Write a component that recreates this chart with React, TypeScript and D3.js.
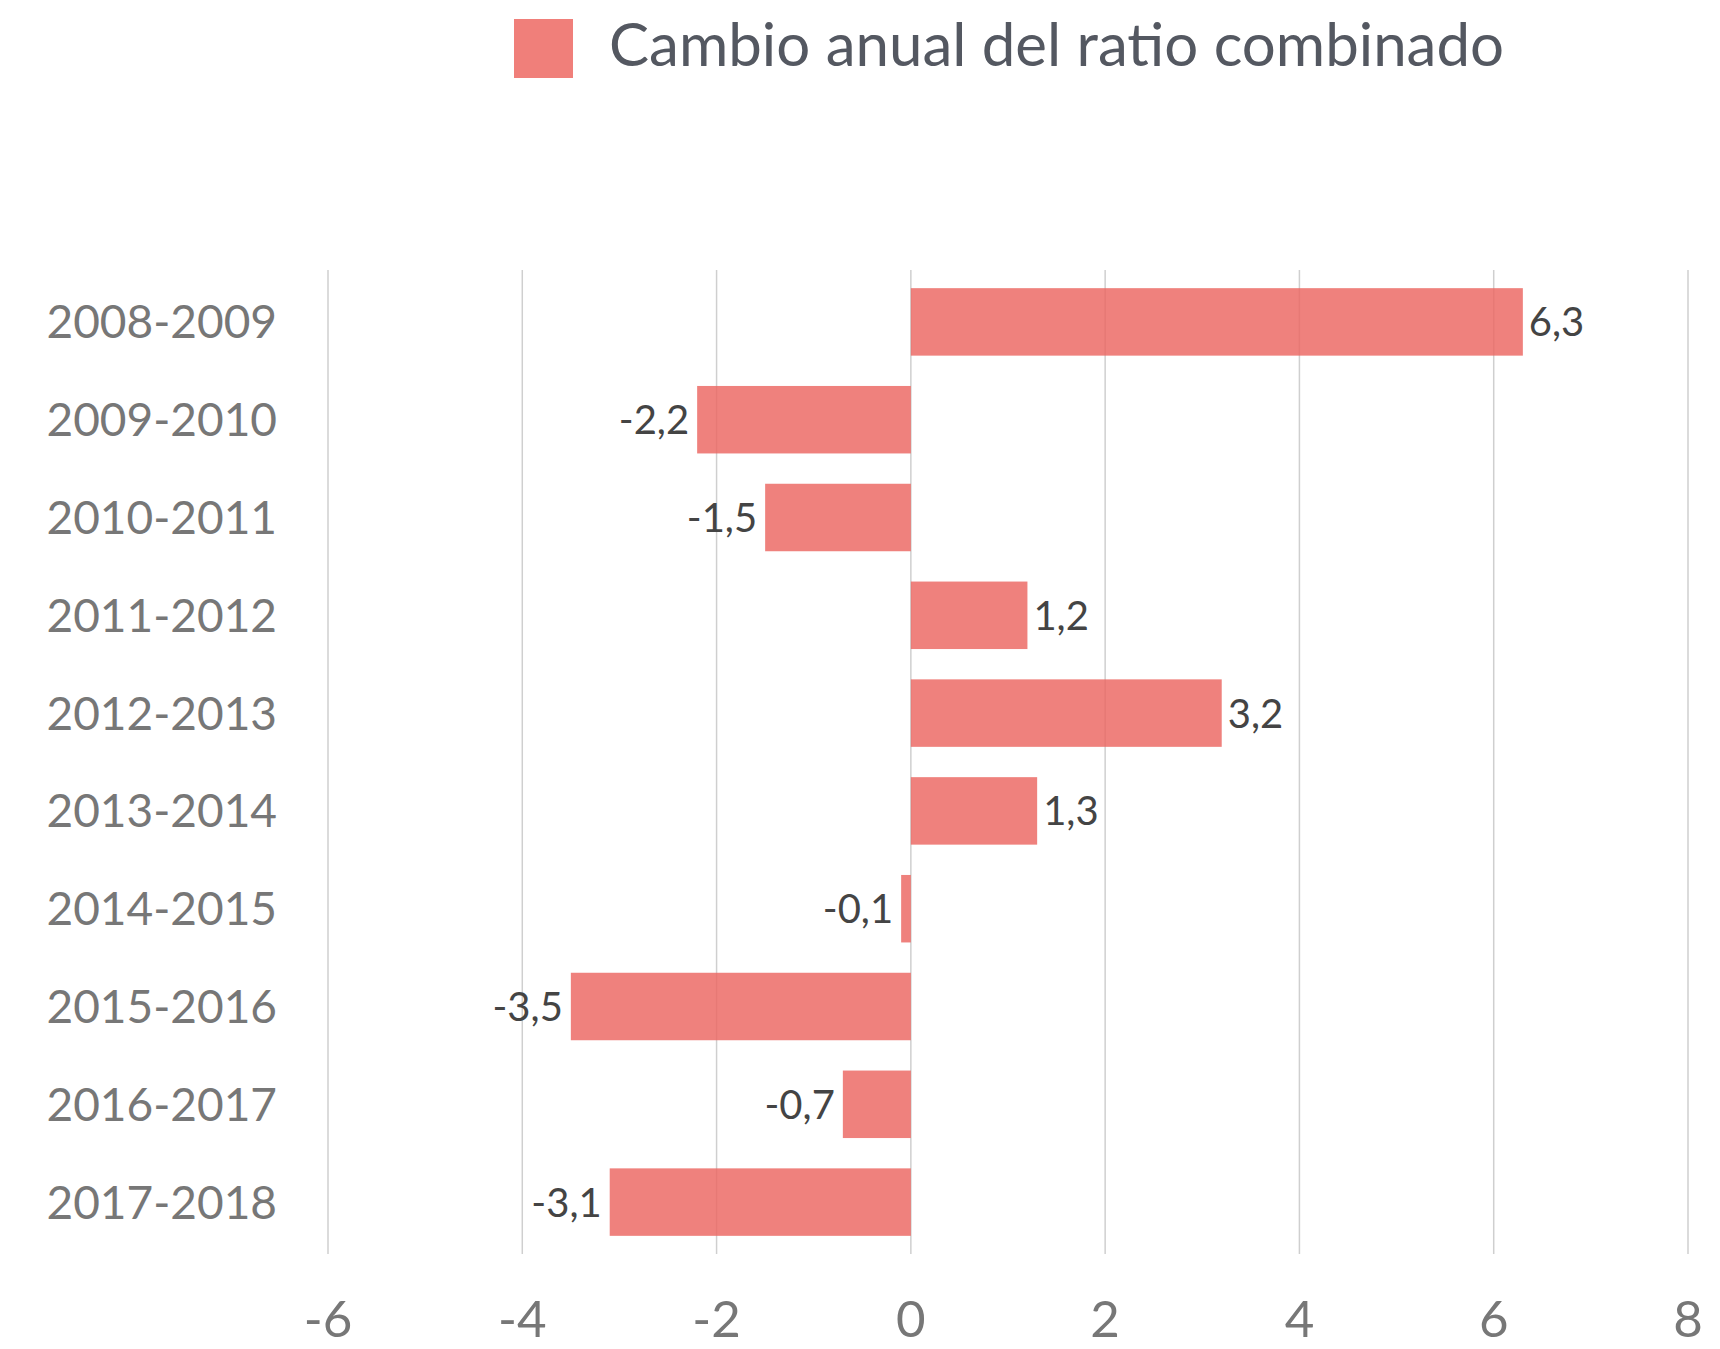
import React from "react";
import * as d3 from "d3";

const categories = ["2008-2009","2009-2010","2010-2011","2011-2012","2012-2013","2013-2014","2014-2015","2015-2016","2016-2017","2017-2018"];
const values = [6.3,-2.2,-1.5,1.2,3.2,1.3,-0.1,-3.5,-0.7,-3.1];
const ticks = [-6,-4,-2,0,2,4,6,8];
const seriesName = "Cambio anual del ratio combinado";

const W = 1720, H = 1349;
const FONT = "Lato, 'Open Sans', sans-serif";

export default function App() {
  const x = d3.scaleLinear().domain([-6, 8]).range([328, 1688]);
  const y = d3.scaleBand<string>().domain(categories).range([273, 1251]).paddingInner(0.31).paddingOuter(0.155);
  const fmt = (v: number) => d3.format(".1f")(v).replace(".", ",").replace("\u2212", "-");
  const gridTop = 270, gridBottom = 1254;
  return (
    <svg width={W} height={H} style={{ position: "absolute", left: 0, top: 0, background: "#fff" }} fontFamily={FONT}>
      {/* legend */}
      <rect x={514} y={19} width={59} height={59} fill="#f07f7a" />
      <text x={609} y={66} fontSize={60} fill="#545861">{seriesName}</text>
      {/* grid */}
      {ticks.map(t => (
        <line key={t} x1={x(t)} x2={x(t)} y1={gridTop} y2={gridBottom} stroke="#cfcfcf" strokeWidth={1.5} />
      ))}
      {/* bars */}
      {categories.map((c, i) => {
        const v = values[i];
        const x0 = x(Math.min(0, v)), x1 = x(Math.max(0, v));
        const yc = (y(c) as number) + y.bandwidth() / 2;
        return (
          <g key={c}>
            <rect x={x0} y={y(c)} width={x1 - x0} height={y.bandwidth()} fill="#ec6560" fillOpacity={0.82} />
            <text x={v >= 0 ? x1 + 6 : x0 - 8} y={yc} dy="0.36em" textAnchor={v >= 0 ? "start" : "end"} fontSize={40} fill="#444">{fmt(v)}</text>
            <text x={277} y={yc} dy="0.36em" textAnchor="end" fontSize={46} fill="#777">{c}</text>
          </g>
        );
      })}
      {/* x tick labels */}
      {ticks.map(t => (
        <text key={t} x={x(t)} y={1337} textAnchor="middle" fontSize={51} fill="#777">{t}</text>
      ))}
    </svg>
  );
}
